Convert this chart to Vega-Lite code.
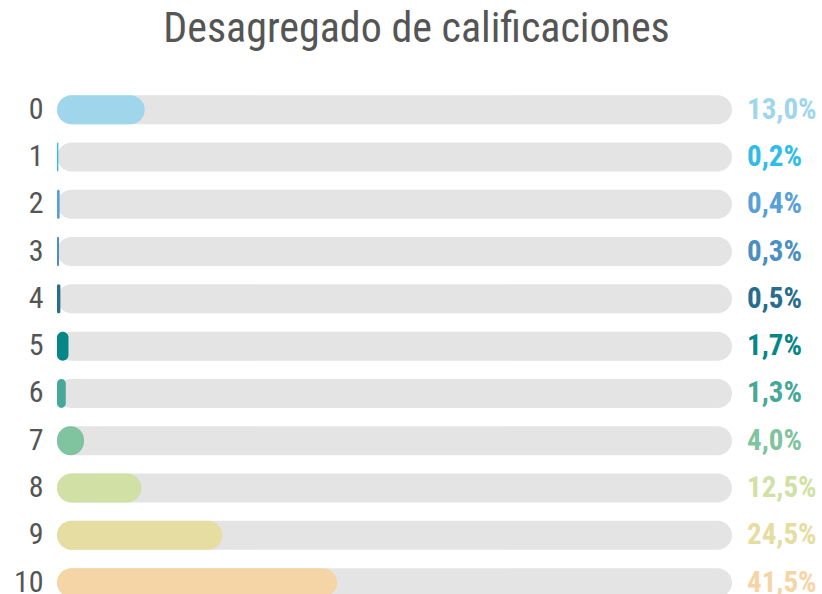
{
  "$schema": "https://vega.github.io/schema/vega-lite/v6.json",
  "width": 675,
  "height": 508,
  "autosize": "none",
  "padding": {"left": 57, "top": 86, "right": 90, "bottom": 0},
  "background": "white",
  "title": {
    "text": "Desagregado de calificaciones",
    "anchor": "middle",
    "frame": "group",
    "fontSize": 42,
    "fontWeight": "normal",
    "font": "'Roboto Condensed', Roboto, sans-serif",
    "color": "#555555",
    "baseline": "alphabetic",
    "offset": 2,
    "dx": 22
  },
  "config": {
    "view": {"stroke": null},
    "locale": {"number": {"decimal": ",", "thousands": ".", "grouping": [3], "currency": ["", " €"]}}
  },
  "data": {
    "values": [
      {"grade": 0, "share": 0.130},
      {"grade": 1, "share": 0.002},
      {"grade": 2, "share": 0.004},
      {"grade": 3, "share": 0.003},
      {"grade": 4, "share": 0.005},
      {"grade": 5, "share": 0.017},
      {"grade": 6, "share": 0.013},
      {"grade": 7, "share": 0.040},
      {"grade": 8, "share": 0.125},
      {"grade": 9, "share": 0.245},
      {"grade": 10, "share": 0.415}
    ]
  },
  "encoding": {
    "y": {
      "field": "grade",
      "type": "ordinal",
      "scale": {"range": [0, 520.3], "paddingInner": 0.387, "paddingOuter": 0.1935},
      "axis": {
        "title": null,
        "domain": false,
        "ticks": false,
        "labelPadding": 14,
        "labelFontSize": 30,
        "labelColor": "#555555",
        "labelFont": "'Roboto Condensed', Roboto, sans-serif",
        "labelFontWeight": "normal"
      }
    }
  },
  "layer": [
    {
      "mark": {"type": "bar", "color": "#e4e4e4", "cornerRadius": 14.5},
      "encoding": {
        "x": {"datum": 1, "type": "quantitative", "scale": {"domain": [0, 1], "range": [0, 675]}, "axis": null},
        "x2": {"datum": 0}
      }
    },
    {
      "mark": {"type": "bar", "cornerRadius": 14.5},
      "encoding": {
        "x": {"field": "share", "type": "quantitative", "scale": {"domain": [0, 1], "range": [0, 675]}, "axis": null},
        "x2": {"datum": 0},
        "color": {
          "field": "grade",
          "type": "ordinal",
          "legend": null,
          "scale": {
            "domain": [0, 1, 2, 3, 4, 5, 6, 7, 8, 9, 10],
            "range": ["#a0d6ec", "#2ebde8", "#5aa0d8", "#4a8fbf", "#276e8c", "#068686", "#48a897", "#7fc39f", "#d1e0a5", "#e5dda2", "#f5d5a5"]
          }
        }
      }
    },
    {
      "mark": {
        "type": "text",
        "align": "left",
        "baseline": "middle",
        "dx": 15,
        "fontSize": 29,
        "fontWeight": "bold",
        "font": "'Roboto Condensed', Roboto, sans-serif"
      },
      "encoding": {
        "x": {"datum": 1, "type": "quantitative", "scale": {"domain": [0, 1], "range": [0, 675]}, "axis": null},
        "text": {"field": "share", "type": "quantitative", "format": ".1%"},
        "color": {"field": "grade", "type": "ordinal", "legend": null}
      }
    }
  ]
}
